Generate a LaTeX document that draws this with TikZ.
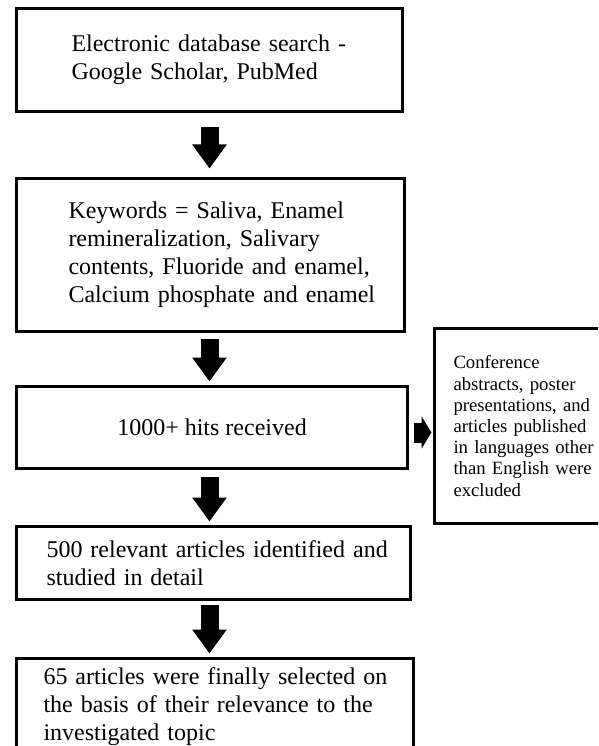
\documentclass[tikz,border=0pt]{standalone}
\usepackage{fontspec}
\setmainfont{Liberation Serif}
\usetikzlibrary{arrows.meta}

\begin{document}
\begin{tikzpicture}[x=1pt,y=-1pt,
		flowbox/.style={draw, line width=3pt, anchor=north west, inner sep=0pt, align=left, font=\fontsize{24}{28}\selectfont},
		fatarrow/.style={line width=18pt, -{Triangle[width=33pt,length=24pt]}}]
		\useasboundingbox (0,0) rectangle (598,746);
		\clip (0,0) rectangle (598,746);
		\node[flowbox, minimum width=386pt, minimum height=103pt, text width=276pt] (search) at (15,7) {\mbox{Electronic database search -}\\Google Scholar, PubMed};
		\node[flowbox, minimum width=388pt, minimum height=153pt, text width=284pt] (kw) at (15,177) {\mbox{Keywords = Saliva, Enamel}\\remineralization, Salivary\\\mbox{contents, Fluoride and enamel,}\\\mbox{Calcium phosphate and enamel}};
		\node[flowbox, align=center, minimum width=391pt, minimum height=82pt] (hits) at (15,385) {1000+ hits received};
		\node[flowbox, minimum width=394pt, minimum height=73pt, text width=334pt] (rel) at (15,525) {\mbox{500 relevant articles identified and}\\studied in detail};
		\node[flowbox, minimum width=397pt, minimum height=97pt, text width=343pt] (sel) at (15,657) {\mbox{65 articles were finally selected on}\\\mbox{the basis of their relevance to the}\\investigated topic};
		\node[flowbox, font=\fontsize{18.7}{21.2}\selectfont, minimum width=181pt, minimum height=195pt, text width=143pt] (excl) at (433,327) {Conference\\abstracts, poster\\\mbox{presentations, and}\\\mbox{articles published}\\\mbox{in languages other}\\\mbox{than English were}\\excluded};
		\draw[fatarrow, shorten <=14pt, shorten >=8.5pt] (search.south) -- (search.south |- kw.north); % ricerca -> parole chiave
		\draw[fatarrow, shorten <=5.5pt, shorten >=3.5pt] (kw.south -| search.south) -- (hits.north -| search.south);
		\draw[fatarrow, shorten <=6.5pt, shorten >=3.5pt] (hits.south -| search.south) -- (rel.north -| search.south);
		\draw[fatarrow, shorten <=3.5pt, shorten >=3.5pt] (rel.south -| search.south) -- (sel.north -| search.south);
		\draw[line width=20pt, -{Triangle[width=32pt,length=10pt]}, shorten <=4.5pt, shorten >=1.5pt] ([yshift=-5pt]hits.east) -- ([yshift=-5pt]hits.east -| excl.west); % esclusi a destra

	\end{tikzpicture}
\end{document}
